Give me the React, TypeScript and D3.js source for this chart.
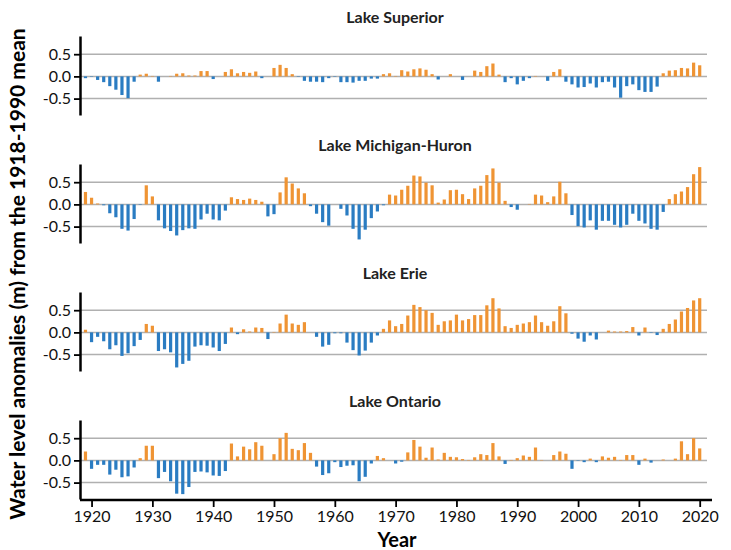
import React, { useEffect, useRef } from "react";
import * as d3 from "d3";

// years 1919-2020, one bar per year
const years = d3.range(1919, 2021);

const superior = [
  -0.04, -0.01, -0.08, -0.13, -0.22, -0.30, -0.42, -0.49, -0.12, 0.04,
  0.06, 0.01, -0.12, 0.0, 0.01, 0.06, 0.07, 0.02, 0.02, 0.12,
  0.12, -0.06, 0.0, 0.10, 0.16, 0.07, 0.10, 0.08, 0.11, -0.04,
  0.0, 0.19, 0.26, 0.19, 0.05, -0.01, -0.10, -0.12, -0.12, -0.13,
  -0.04, -0.01, -0.13, -0.13, -0.14, -0.10, -0.10, -0.05, -0.05, 0.05,
  0.07, 0.01, 0.14, 0.11, 0.16, 0.18, 0.15, 0.05, -0.07, 0.0,
  0.05, 0.0, -0.08, 0.0, 0.13, 0.10, 0.23, 0.29, 0.04, -0.13,
  -0.04, -0.18, -0.10, -0.04, 0.01, 0.0, -0.10, 0.10, 0.16, -0.12,
  -0.18, -0.25, -0.24, -0.16, -0.25, -0.13, -0.12, -0.25, -0.48, -0.22,
  -0.18, -0.31, -0.35, -0.35, -0.23, 0.07, 0.13, 0.14, 0.19, 0.18,
  0.31, 0.25,
];

const michiganHuron = [
  0.28, 0.15, 0.02, -0.02, -0.20, -0.29, -0.55, -0.59, -0.33, -0.01,
  0.43, 0.18, -0.36, -0.54, -0.60, -0.70, -0.58, -0.54, -0.55, -0.34,
  -0.21, -0.34, -0.36, -0.14, 0.16, 0.12, 0.10, 0.13, 0.10, 0.06,
  -0.27, -0.22, 0.27, 0.61, 0.47, 0.36, 0.25, -0.04, -0.21, -0.40,
  -0.48, 0.0, -0.10, -0.25, -0.55, -0.79, -0.57, -0.31, -0.16, -0.02,
  0.22, 0.20, 0.33, 0.42, 0.65, 0.63, 0.49, 0.43, 0.04, 0.11,
  0.32, 0.33, 0.23, 0.12, 0.36, 0.42, 0.66, 0.81, 0.49, 0.08,
  -0.06, -0.12, 0.0, 0.01, 0.22, 0.20, 0.05, 0.18, 0.51, 0.25,
  -0.24, -0.49, -0.52, -0.36, -0.57, -0.37, -0.37, -0.46, -0.52, -0.46,
  -0.21, -0.37, -0.43, -0.55, -0.57, -0.17, 0.12, 0.23, 0.29, 0.39,
  0.68, 0.84,
];

const erie = [
  0.06, -0.22, -0.10, -0.20, -0.38, -0.29, -0.53, -0.47, -0.31, -0.17,
  0.19, 0.15, -0.42, -0.38, -0.45, -0.79, -0.71, -0.64, -0.32, -0.29,
  -0.30, -0.34, -0.42, -0.26, 0.11, -0.04, 0.07, 0.02, 0.11, 0.10,
  -0.15, 0.01, 0.20, 0.40, 0.20, 0.17, 0.23, 0.0, -0.10, -0.32,
  -0.28, -0.02, -0.02, -0.23, -0.40, -0.52, -0.41, -0.23, -0.07, 0.08,
  0.27, 0.14, 0.19, 0.38, 0.62, 0.57, 0.50, 0.44, 0.17, 0.25,
  0.27, 0.40, 0.27, 0.30, 0.39, 0.39, 0.61, 0.77, 0.54, 0.14,
  0.10, 0.17, 0.20, 0.23, 0.38, 0.23, 0.15, 0.25, 0.59, 0.43,
  -0.03, -0.14, -0.21, -0.07, -0.16, 0.0, 0.04, 0.02, 0.02, 0.03,
  0.12, -0.07, 0.11, -0.01, -0.06, 0.08, 0.19, 0.29, 0.47, 0.55,
  0.72, 0.77,
];

const ontario = [
  0.20, -0.19, -0.10, -0.10, -0.32, -0.21, -0.38, -0.36, -0.16, 0.05,
  0.33, 0.33, -0.40, -0.26, -0.47, -0.75, -0.76, -0.60, -0.26, -0.25,
  -0.27, -0.34, -0.35, -0.24, 0.38, 0.09, 0.31, 0.25, 0.41, 0.33,
  0.0, 0.14, 0.50, 0.62, 0.26, 0.23, 0.39, 0.17, -0.14, -0.33,
  -0.29, -0.04, -0.15, -0.12, -0.11, -0.47, -0.37, -0.07, 0.10, 0.05,
  0.0, -0.07, -0.03, 0.18, 0.46, 0.31, 0.06, 0.29, 0.02, 0.17,
  0.08, 0.07, 0.03, 0.01, 0.07, 0.14, 0.12, 0.39, 0.09, -0.08,
  0.01, 0.05, 0.11, 0.08, 0.29, 0.01, 0.0, 0.12, 0.20, 0.15,
  -0.19, -0.01, -0.04, 0.04, -0.04, 0.09, 0.06, 0.08, 0.01, 0.12,
  0.12, -0.10, 0.04, -0.05, 0.0, 0.02, 0.0, 0.04, 0.43, 0.14,
  0.50, 0.27,
];

const lakeNames = ["Lake Superior", "Lake Michigan-Huron", "Lake Erie", "Lake Ontario"];
const lakeValues = [superior, michiganHuron, erie, ontario];

const yTicks = [-0.5, 0, 0.5];
const xTicks = [1920, 1930, 1940, 1950, 1960, 1970, 1980, 1990, 2000, 2010, 2020];

const width = 731;
const height = 550;
const left = 80;
const right = 707;
const panelTop = 36;
const panelStep = 128;
const panelHeight = 79;

const blue = "#2a7cc2";
const orange = "#ef9434";
const font = "Lato, 'Open Sans', sans-serif";

export default function App() {
  const ref = useRef<SVGSVGElement>(null);

  useEffect(() => {
    const svg = d3.select(ref.current);
    svg.selectAll("*").remove();

    const x = d3.scaleLinear().domain([1918.1, 2021.2]).range([left, right]);
    const barW = 3.2;

    lakeNames.forEach((name, li) => {
      const top = panelTop + li * panelStep;
      const y = d3.scaleLinear().domain([-0.87, 0.91]).range([top + panelHeight, top]);
      const g = svg.append("g");

      // gridlines
      g.selectAll("line.grid")
        .data(yTicks)
        .enter()
        .append("line")
        .attr("x1", left)
        .attr("x2", right)
        .attr("y1", (d) => y(d))
        .attr("y2", (d) => y(d))
        .attr("stroke", "#b0b0b0")
        .attr("stroke-width", 1.5);

      // bars
      const vals = lakeValues[li];
      g.selectAll("rect")
        .data(years)
        .enter()
        .append("rect")
        .attr("x", (d) => x(d) - barW / 2)
        .attr("width", barW)
        .attr("y", (d, i) => Math.min(y(vals[i]), y(0)))
        .attr("height", (d, i) => Math.abs(y(vals[i]) - y(0)))
        .attr("fill", (d, i) => (vals[i] >= 0 ? orange : blue));

      // left axis
      const yAxis = d3
        .axisLeft(y)
        .tickValues(yTicks)
        .tickSize(6)
        .tickSizeOuter(0)
        .tickFormat((d) => (+d).toFixed(1));
      const ag = g.append("g").attr("transform", `translate(${left},0)`).call(yAxis);
      ag.select(".domain").attr("stroke", "#000").attr("stroke-width", 2.5);
      ag.selectAll(".tick line").attr("stroke", "#000").attr("stroke-width", 1.8);
      ag.selectAll(".tick text")
        .attr("font-family", font)
        .attr("font-size", 16)
        .attr("fill", "#111")
        .attr("x", -9);

      // title
      g.append("text")
        .attr("x", 395)
        .attr("y", top - 13)
        .attr("text-anchor", "middle")
        .attr("font-family", font)
        .attr("font-weight", "bold")
        .attr("font-size", 16)
        .attr("fill", "#222")
        .text(name);

      // bottom axis only on the last panel
      if (li === lakeNames.length - 1) {
        const xAxis = d3
          .axisBottom(x)
          .tickValues(xTicks)
          .tickSize(7)
          .tickSizeOuter(0)
          .tickFormat((d) => String(d));
        const xg = g
          .append("g")
          .attr("transform", `translate(0,${top + panelHeight + 1})`)
          .call(xAxis);
        xg.select(".domain").remove();
        xg.append("line")
          .attr("x1", left)
          .attr("x2", 712)
          .attr("stroke", "#000")
          .attr("stroke-width", 2.5);
        xg.selectAll(".tick line").attr("stroke", "#000").attr("stroke-width", 1.8);
        xg.selectAll(".tick text")
          .attr("font-family", font)
          .attr("font-size", 16)
          .attr("fill", "#111")
          .attr("y", 11);
      }
    });

    // axis titles
    svg.append("text")
      .attr("transform", `translate(25,274) rotate(-90)`)
      .attr("text-anchor", "middle")
      .attr("font-family", font)
      .attr("font-weight", "bold")
      .attr("font-size", 21)
      .attr("fill", "#000")
      .text("Water level anomalies (m) from the 1918-1990 mean");

    svg.append("text")
      .attr("x", 397)
      .attr("y", 547)
      .attr("text-anchor", "middle")
      .attr("font-family", font)
      .attr("font-weight", "bold")
      .attr("font-size", 20)
      .attr("fill", "#000")
      .text("Year");
  }, []);

  return (
    <svg
      ref={ref}
      width={width}
      height={height}
      style={{ position: "absolute", left: 0, top: 0, background: "#fff" }}
    />
  );
}
